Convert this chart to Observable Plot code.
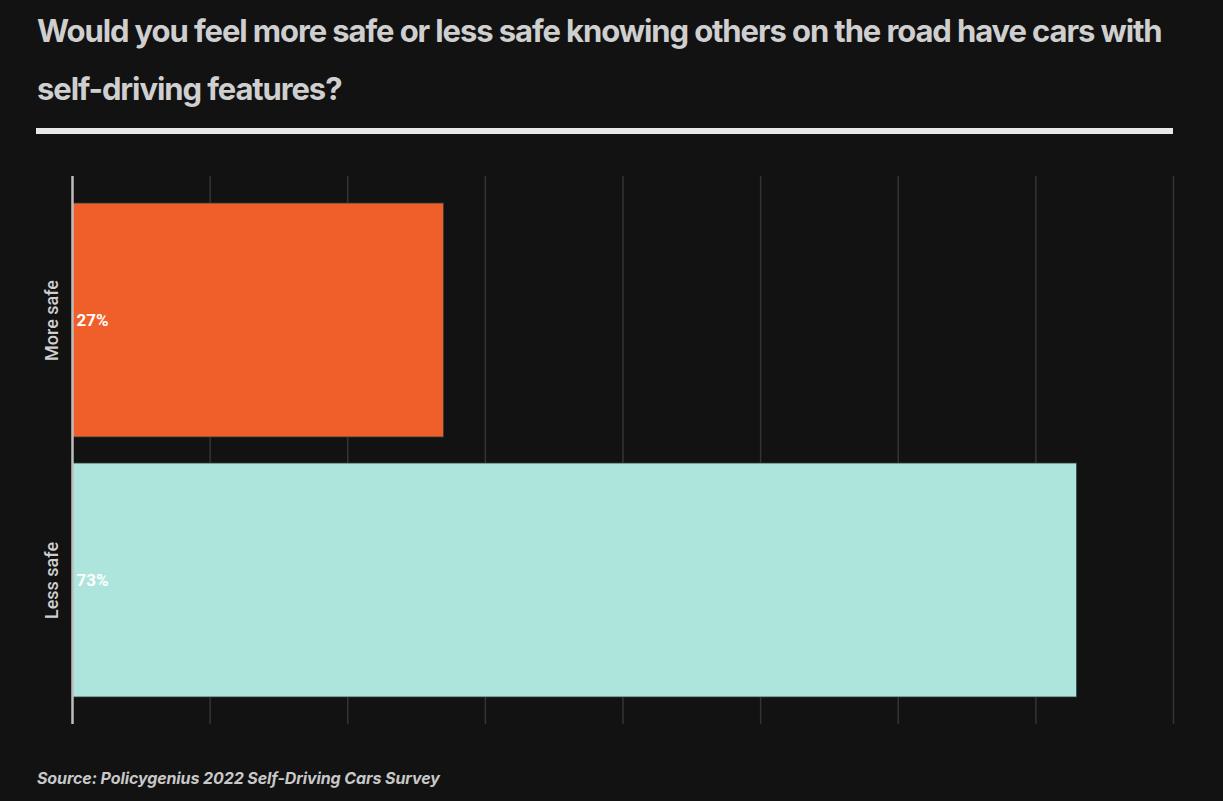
<!DOCTYPE html>
<html>
<head>
<meta charset="utf-8">
<script src="https://cdn.jsdelivr.net/npm/d3@7"></script>
<script src="https://cdn.jsdelivr.net/npm/@observablehq/plot@0.6"></script>
<style>
  html, body { margin: 0; padding: 0; background: #121212; width: 1223px; height: 801px; overflow: hidden; }
  #title { position: absolute; left: 37px; top: 2px; width: 1180px; color: #cfcfcf; font-family: Inter, "Open Sans", sans-serif; font-weight: 700; font-size: 31px; line-height: 58px; letter-spacing: -1.1px; }
  #title .nw { white-space: nowrap; }
  #rule { position: absolute; left: 36px; top: 128px; width: 1137px; height: 6px; background: #e8e8e8; }
  #chart { position: absolute; left: 0; top: 150px; }
  #caption { position: absolute; left: 37px; top: 768px; color: #c8c8c8; font-family: Inter, "Open Sans", sans-serif; font-weight: 700; font-style: italic; font-size: 16px; letter-spacing: -0.1px; }
</style>
</head>
<body>
<div id="title">Would you feel more safe or less safe knowing others on the road have cars with <span class="nw">self-driving</span> features?</div>
<div id="rule"></div>
<div id="chart"></div>
<div id="caption">Source: Policygenius 2022 Self-Driving Cars Survey</div>
<script>
const categories = ["More safe", "Less safe"];
const values = [27, 73];
const labels = ["27%", "73%"];
const colors = ["#f05f29", "#ade5dc"];
const gridTicks = [10, 20, 30, 40, 50, 60, 70, 80];

const data = categories.map((c, i) => ({category: c, value: values[i], label: labels[i], color: colors[i]}));

const chart = Plot.plot({
  width: 1223,
  height: 590,
  marginTop: 26,
  marginBottom: 16,
  marginLeft: 72,
  marginRight: 50,
  style: { background: "transparent", color: "#ccc" },
  x: { domain: [0, 80], axis: null },
  y: { domain: categories, axis: null, padding: 0.1 },
  marks: [
    Plot.ruleX(gridTicks, { stroke: "#343434", strokeWidth: 1.5 }),
    Plot.barX(data, { x: "value", y: "category", fill: "color", stroke: "#2a3a38", strokeWidth: 0.8 }),
    Plot.ruleX([0], { stroke: "#bdbdbd", strokeWidth: 2.5 }),
    Plot.text(data, { x: 0, y: "category", text: "category", rotate: -90, dx: -20, fill: "#cfcfcf", fontSize: 18, fontWeight: 500, fontFamily: "Roboto, sans-serif", textAnchor: "middle" }),
    Plot.text(data, { x: 0, y: "category", text: "label", dx: 4, textAnchor: "start", fill: "#ffffff", fontSize: 17, fontWeight: "bold", fontFamily: "Roboto, sans-serif" })
  ]
});
document.getElementById("chart").appendChild(chart);
</script>
</body>
</html>
